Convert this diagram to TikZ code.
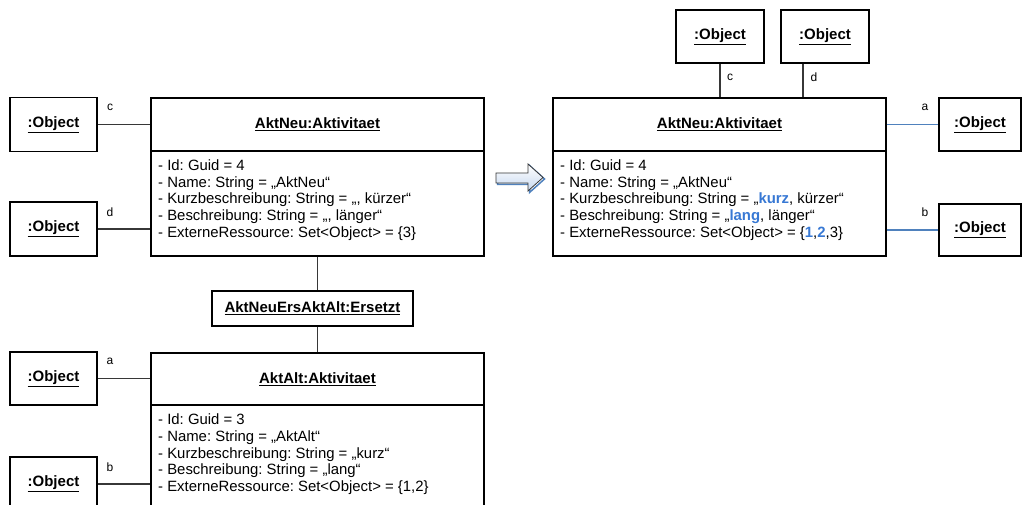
\documentclass[tikz,border=0pt]{standalone}
\usepackage{fontspec}
\setmainfont{Liberation Sans}
\frenchspacing
\definecolor{conn}{RGB}{55,55,55}
\definecolor{bluel}{RGB}{79,129,189}
\definecolor{bluet}{RGB}{55,120,212}
\definecolor{arrowfill}{RGB}{200,217,240}
\newcommand\myobjfont{\fontsize{15}{18}\selectfont\bfseries}
\newcommand\mybodyfont{\fontsize{14.9}{16.75}\selectfont\frenchspacing}
\newcommand\mylblfont{\fontsize{12}{14}\selectfont}
\newcommand\hl[1]{{\color{bluet}\bfseries #1}}
\tikzset{
  obj/.style={draw=black, line width=1.4pt, minimum width=87pt, minimum height=54pt, inner sep=0pt, font=\myobjfont},
  hdr/.style={draw=black, line width=1.4pt, minimum width=333pt, minimum height=53pt, inner sep=0pt, font=\myobjfont},
  bodybox/.style={draw=black, line width=1.4pt, minimum width=333pt, minimum height=105pt, inner sep=0pt},
  attr/.style={anchor=base west, inner sep=0pt},
  link/.style={draw=conn, line width=1.2pt},
  blink/.style={draw=bluel, line width=1.3pt},
  lbl/.style={font=\mylblfont, inner sep=0pt}
}
\begin{document}
\begin{tikzpicture}[x=1pt,y=-1pt]
\clip (0,0) rectangle (1023,505);
\fill[white] (0,0) rectangle (1023,505);

% ---- left upper: AktNeu
\node[hdr] (neuT) at (317.5,124.5) {\underline{AktNeu:Aktivitaet}};
\node[bodybox] (neuB) at (317.5,203.5) {};
\node[attr] (neuTxt) at (158,170.5) {\parbox[t]{320pt}{\mybodyfont
- Id: Guid = 4\\
- Name: String = „AktNeu“\\
- Kurzbeschreibung: String = „, kürzer“\\
- Beschreibung: String = „, länger“\\
- ExterneRessource: Set<Object> = \{3\}}};
\node[obj] (oc) at (53.5,124.5) {\underline{:Object}};
\node[obj] (od) at (53.5,229) {\underline{:Object}};
\draw[link] (oc.east) -- (neuT.west);
\draw[link] (od.east) -- (od.east -| neuB.west);
\node[lbl] (lc) at (110,107) {c};
\node[lbl] (ld) at (110,212) {d};

% ---- Ersetzt
\node[obj, minimum width=201pt, minimum height=35pt] (ers) at (312.5,308.5) {\underline{AktNeuErsAktAlt:Ersetzt}};

% ---- left lower: AktAlt
\node[hdr, minimum height=52pt] (altT) at (317.5,379) {\underline{AktAlt:Aktivitaet}};
\node[bodybox, minimum height=110pt] (altB) at (317.5,460) {};
\node[attr] (altTxt) at (158,424.5) {\parbox[t]{320pt}{\mybodyfont
- Id: Guid = 3\\
- Name: String = „AktAlt“\\
- Kurzbeschreibung: String = „kurz“\\
- Beschreibung: String = „lang“\\
- ExterneRessource: Set<Object> = \{1,2\}}};
\node[obj, minimum height=53pt] (oa) at (53.5,378.5) {\underline{:Object}};
\node[obj] (ob) at (53.5,484) {\underline{:Object}};
\draw[link] (oa.east) -- (oa.east -| altT.west);
\draw[link] (ob.east) -- (ob.east -| altB.west);
\node[lbl] (la) at (110,361) {a};
\node[lbl] (lb) at (110,467) {b};

\draw[link] (neuB.south) -- (neuB.south |- ers.north);
\draw[link] (ers.south -| altT.north) -- (altT.north);

% ---- arrow
\draw[bluel, line width=1.5pt, line join=miter]
  (497.5,174.5) -- (529.5,174.5) -- (529.5,165.5) -- (544.5,179) -- (529.5,192.5) -- (529.5,184.5) -- (497.5,184.5) -- cycle;
\draw[top color=white, bottom color=arrowfill, draw=conn, line width=0.8pt, line join=miter]
  (496,173) -- (528,173) -- (528,164) -- (543,177.5) -- (528,191) -- (528,183) -- (496,183) -- cycle;

% ---- right: AktNeu after
\node[hdr] (rT) at (719.5,124.5) {\underline{AktNeu:Aktivitaet}};
\node[bodybox] (rB) at (719.5,203.5) {};
\node[attr] (rTxt) at (560,170.5) {\parbox[t]{320pt}{\mybodyfont
- Id: Guid = 4\\
- Name: String = „AktNeu“\\
- Kurzbeschreibung: String = „\hl{kurz}, kürzer“\\
- Beschreibung: String = „\hl{lang}, länger“\\
- ExterneRessource: Set<Object> = \{\hl{1},\hl{2},3\}}};
\node[obj, minimum width=88pt, minimum height=53pt] (t1) at (720,36.5) {\underline{:Object}};
\node[obj, minimum width=88pt, minimum height=53pt] (t2) at (825,36.5) {\underline{:Object}};
\draw[link] (t1.south) -- (t1.south |- rT.north);
\draw[link] ([xshift=-22pt]t2.south) -- ([xshift=-22pt]t2.south |- rT.north);
\node[lbl] (rc) at (730,77) {c};
\node[lbl] (rd) at (814,77) {d};

\node[obj, minimum width=82pt, minimum height=53pt] (ra) at (980,124.5) {\underline{:Object}};
\node[obj, minimum width=82pt, minimum height=52pt] (rb) at (980,230) {\underline{:Object}};
\draw[blink] (rT.east) -- (ra.west);
\draw[blink] (rb.west -| rB.east) -- (rb.west);
\node[lbl] (ra2) at (925,107) {a};
\node[lbl] (rb2) at (925,212) {b};
\end{tikzpicture}
\end{document}
